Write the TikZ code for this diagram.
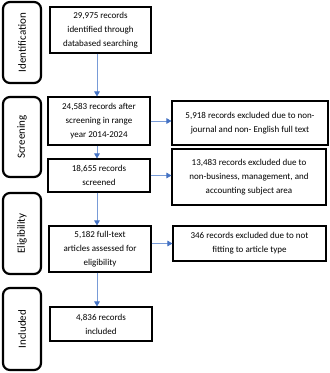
\documentclass[tikz,border=0pt]{standalone}
\usepackage{fontspec}
\setmainfont{Carlito}
\usetikzlibrary{arrows.meta}
\definecolor{arrline}{RGB}{120,155,215}
\definecolor{arrhead}{RGB}{68,114,196}
\tikzset{
  box/.style={draw=black, line width=1.1pt, align=center, inner sep=0pt, font=\fontsize{9}{14}\selectfont},
  stage/.style={draw=black, line width=2.2pt, rounded corners=7pt, inner sep=0pt},
  stagetext/.style={rotate=90, font=\fontsize{11}{13}\selectfont},
  flow/.style={draw=arrline, line width=0.8pt, -{Triangle[width=5.5pt,length=5pt,color=arrhead]}}
}
\begin{document}
\begin{tikzpicture}[x=1pt,y=-1pt]
\fill[white] (0,0) rectangle (330,373);
\useasboundingbox (0,0) rectangle (330,373);

% stage labels
\node[stage, minimum width=38pt, minimum height=81pt] (sid) at (22,42.5) {};
\node[stagetext] (tid) at (sid.center) {Identification};
\node[stage, minimum width=38pt, minimum height=80pt] (ssc) at (22,137) {};
\node[stagetext] (tsc) at (ssc.center) {Screening};
\node[stage, minimum width=38pt, minimum height=81pt] (sel) at (22,233.5) {};
\node[stagetext] (tel) at (sel.center) {Eligibility};
\node[stage, minimum width=38pt, minimum height=82pt] (sin) at (22,329) {};
\node[stagetext] (tin) at (sin.center) {Included};

% main boxes
\node[box, minimum width=101pt, minimum height=46pt] (b1) at (100.5,30) {29,975 records\\identified through\\databased searching};
\node[box, minimum width=102pt, minimum height=48pt] (b2) at (99,121) {24,583 records after\\screening in range\\year 2014-2024};
\node[box, minimum width=102pt, minimum height=33pt] (b3) at (99,175.5) {18,655 records\\screened};
\node[box, minimum width=102pt, minimum height=46pt] (b4) at (100,249) {5,182 full-text\\articles assessed for\\eligibility};
\node[box, minimum width=102pt, minimum height=34pt] (b5) at (101,324) {4,836 records\\included};

% right boxes
\node[box, minimum width=156pt, minimum height=44pt] (r1) at (250,123) {5,918 records excluded due to non-\\journal and non- English full text};
\node[box, minimum width=154pt, minimum height=56pt] (r2) at (249,177) {13,483 records excluded due to\\non-business, management, and\\accounting subject area};
\node[box, minimum width=153pt, minimum height=35pt] (r3) at (249.5,243.5) {346 records excluded due to not\\fitting to article type};

% connectors
\coordinate (ax) at (97,0);
\draw[flow] (b1.south -| ax) -- (b2.north -| ax);
\draw[flow] (b2.south -| ax) -- (b3.north -| ax);
\draw[flow] (b3.south -| ax) -- (b4.north -| ax);
\draw[flow] (b4.south -| ax) -- (b5.north -| ax);
\draw[flow] (b2.east) -- (b2.east -| r1.west);
\draw[flow] (b3.east) -- (b3.east -| r2.west);
\draw[flow] (b4.east |- r3.west) -- (r3.west);
\end{tikzpicture}
\end{document}
